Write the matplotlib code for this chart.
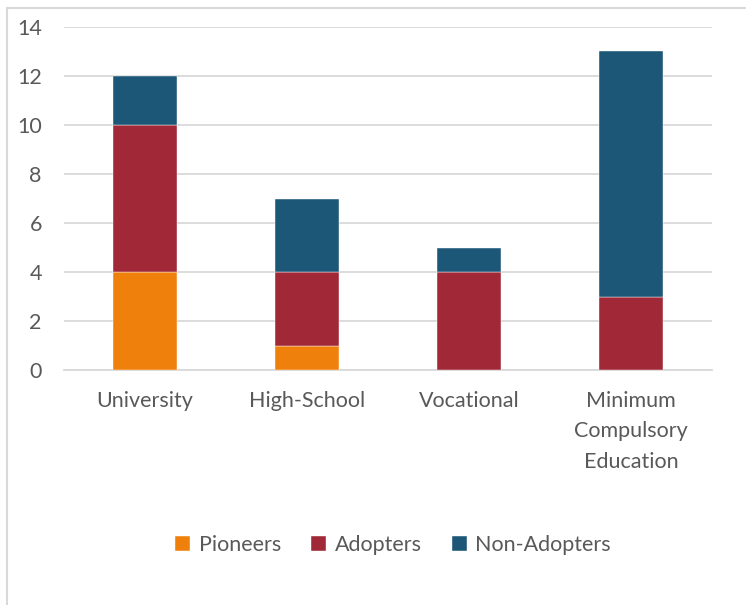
import matplotlib.pyplot as plt
from matplotlib.lines import Line2D
import numpy as np

categories = ["University", "High-School", "Vocational", "Minimum\nCompulsory\nEducation"]
pioneers = [4, 1, 0, 0]
adopters = [6, 3, 4, 3]
non_adopters = [2, 3, 1, 10]

series = [
    ("Pioneers", pioneers, "#F0800C"),
    ("Adopters", adopters, "#A02837"),
    ("Non-Adopters", non_adopters, "#1D5777"),
]

plt.rcParams['font.family'] = ['Lato', 'DejaVu Sans']
text_color = "#595959"
grid_color = "#D9D9D9"
fs = 15.5

fig = plt.figure(figsize=(7.46, 6.05), dpi=100)
ax = fig.add_axes([0.0858, 0.3884, 0.8686, 0.567])

x = np.arange(len(categories))
bottom = np.zeros(len(categories))
for name, vals, color in series:
    ax.bar(x, vals, width=0.395, bottom=bottom, color=color, label=name,
           edgecolor="white", linewidth=0.3, zorder=3)
    bottom += np.array(vals)

ax.set_xlim(-0.5, len(categories) - 0.5)
ax.set_ylim(0, 14)
ax.set_yticks(range(0, 15, 2))
ax.set_xticks(x)
ax.set_xticklabels(categories, linespacing=1.65)
ax.yaxis.grid(True, color=grid_color, linewidth=1.3, zorder=0)
ax.set_axisbelow(True)
for side in ["top", "right", "left"]:
    ax.spines[side].set_visible(False)
ax.spines["bottom"].set_color(grid_color)
ax.spines["bottom"].set_linewidth(1.3)
ax.tick_params(axis="both", length=0, labelsize=fs, colors=text_color)
ax.tick_params(axis="y", pad=16)
ax.tick_params(axis="x", pad=15)

fig.legend(loc="center", bbox_to_anchor=(393 / 746, 1 - 545 / 605), ncol=3,
           frameon=False, fontsize=fs, labelcolor=text_color,
           handlelength=0.7, handleheight=0.7, handletextpad=0.4,
           columnspacing=1.4)

# chart frame on the left and top edges
fig.add_artist(Line2D([7 / 746, 7 / 746], [0, 1 - 8 / 605], color=grid_color,
                      linewidth=1.5, transform=fig.transFigure))
fig.add_artist(Line2D([7 / 746, 1], [1 - 8 / 605, 1 - 8 / 605], color=grid_color,
                      linewidth=1.5, transform=fig.transFigure))

fig.savefig("out.png", dpi=100)
